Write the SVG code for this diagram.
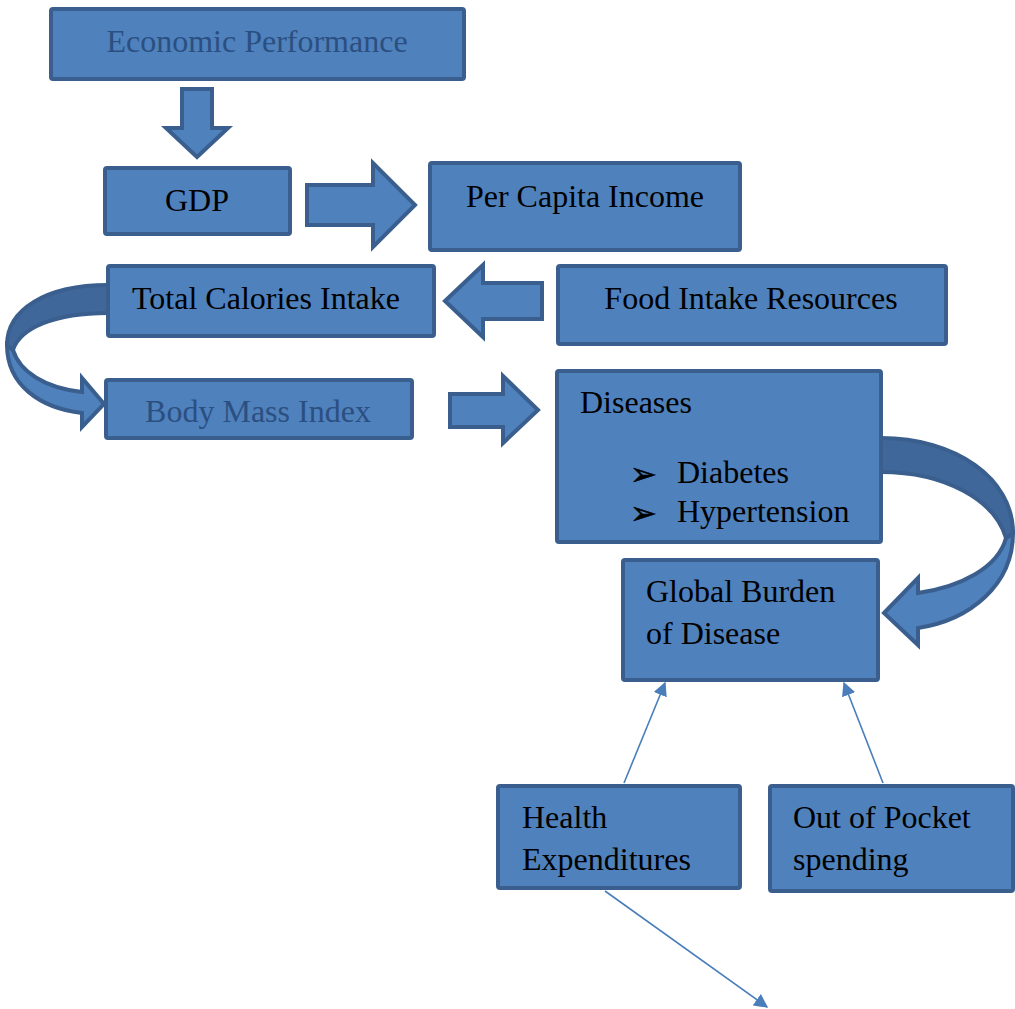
<svg xmlns="http://www.w3.org/2000/svg" width="1015" height="1009" viewBox="0 0 1015 1009">
<defs>
<style>
.box{fill:#4F81BD;stroke:#3A5F8E;stroke-width:4}
.blk{fill:#4F81BD;stroke:#3A5F8E;stroke-width:4;stroke-linejoin:miter}
.dark{fill:#3F6799;stroke:#3A5F8E;stroke-width:4}
.t{font-family:"Liberation Serif","Times New Roman",serif;font-size:32px;fill:#000}
.tb{font-family:"Liberation Serif","Times New Roman",serif;font-size:32px;fill:#2B4F80}
.bul{font-family:"DejaVu Sans",sans-serif;font-size:32px;fill:#000;stroke:#000;stroke-width:0.6}
.ln{stroke:#4A7EBB;stroke-width:1.6;fill:none}
</style>
<marker id="ah2" viewBox="0 0 10 10" refX="9" refY="5" markerWidth="14" markerHeight="14" orient="auto" markerUnits="userSpaceOnUse">
<path d="M0,0 L10,5 L0,10 Z" fill="#4A7EBB"/>
</marker>
</defs>

<g id="connectors">
<polygon class="blk" points="182,89 212,89 212,128 228,128 197,157 166,128 182,128"/>
<polygon class="blk" points="307,185 373,185 373,163 415,205 373,247 373,225 307,225"/>
<polygon class="blk" points="542,283 483,283 483,265 445,301 483,337 483,319 542,319"/>
<polygon class="blk" points="450,394 503,394 503,376 538,410 503,443 503,427 450,427"/>
<!-- left curved arrow -->
<path class="blk" d="M 7 345 C 7 385, 40 408, 82 413 L 82 427 L 104 404 L 82 378 L 82 392 C 45 388, 20 372, 13 350 Z"/>
<path class="dark" d="M 108 285 C 45 285, 7 310, 7 345 L 13 350 C 20 328, 55 313, 108 313 Z"/>
<!-- right curved arrow -->
<path class="blk" d="M 1013 533 C 1013 585, 970 620, 918 628 L 918 645 L 884 613 L 918 578 L 918 593 C 960 587, 998 568, 1006 538 Z"/>
<path class="dark" d="M 881 438 C 955 438, 1013 478, 1013 533 L 1006 538 C 995 500, 945 472, 881 472 Z"/>
<line class="ln" x1="624" y1="783" x2="665" y2="683" marker-end="url(#ah2)"/>
<line class="ln" x1="883" y1="783" x2="844" y2="683" marker-end="url(#ah2)"/>
<line class="ln" x1="605" y1="891" x2="767" y2="1007" marker-end="url(#ah2)"/>
</g>

<g id="economic-performance">
<rect class="box" x="51" y="9" width="413" height="70" rx="2"/>
<text class="tb" x="257" y="52" text-anchor="middle">Economic Performance</text>
</g>
<g id="gdp">
<rect class="box" x="105" y="168" width="185" height="66" rx="2"/>
<text class="t" x="197" y="211" text-anchor="middle">GDP</text>
</g>
<g id="per-capita-income">
<rect class="box" x="430" y="163" width="310" height="87" rx="2"/>
<text class="t" x="585" y="207" text-anchor="middle">Per Capita Income</text>
</g>
<g id="total-calories-intake">
<rect class="box" x="108" y="266" width="326" height="70" rx="2"/>
<text class="t" x="266" y="309" text-anchor="middle">Total Calories Intake</text>
</g>
<g id="food-intake-resources">
<rect class="box" x="558" y="266" width="388" height="78" rx="2"/>
<text class="t" x="751" y="309" text-anchor="middle">Food Intake Resources</text>
</g>
<g id="body-mass-index">
<rect class="box" x="106" y="380" width="306" height="58" rx="2"/>
<text class="tb" x="258" y="422" text-anchor="middle">Body Mass Index</text>
</g>
<g id="diseases">
<rect class="box" x="557" y="371" width="324" height="171" rx="2"/>
<text class="t" x="580" y="413">Diseases</text>
<text class="bul" x="630" y="485">➢</text>
<text class="t" x="677" y="483">Diabetes</text>
<text class="bul" x="630" y="524">➢</text>
<text class="t" x="677" y="522">Hypertension</text>
</g>
<g id="global-burden">
<rect class="box" x="623" y="560" width="255" height="120" rx="2"/>
<text class="t" x="646" y="602">Global Burden</text>
<text class="t" x="646" y="644">of Disease</text>
</g>
<g id="health-expenditures">
<rect class="box" x="498" y="786" width="242" height="102" rx="2"/>
<text class="t" x="522" y="828">Health</text>
<text class="t" x="522" y="870">Expenditures</text>
</g>
<g id="out-of-pocket">
<rect class="box" x="770" y="786" width="243" height="105" rx="2"/>
<text class="t" x="793" y="828">Out of Pocket</text>
<text class="t" x="793" y="870">spending</text>
</g>
</svg>
